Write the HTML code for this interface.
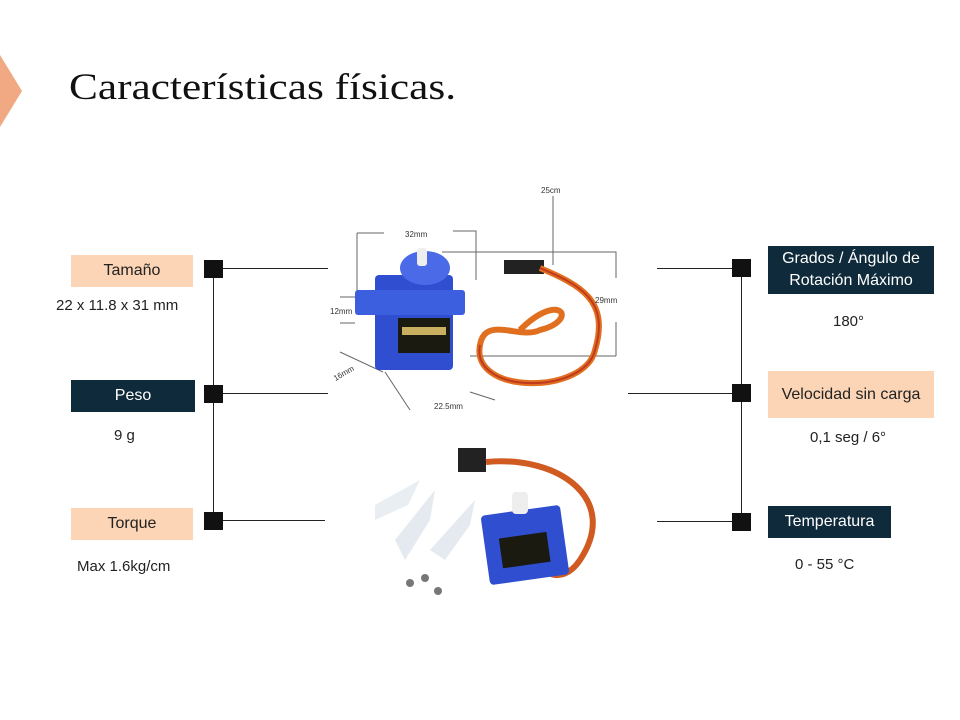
<!DOCTYPE html>
<html><head><meta charset="utf-8"><style>
body{margin:0;width:960px;height:720px;background:#fff;position:relative;overflow:hidden;font-family:"Liberation Sans",sans-serif}
.a{position:absolute}
.box{position:absolute;display:flex;align-items:center;justify-content:center;text-align:center;font-size:16px;line-height:22px}
.pe{background:#fbd5b5;color:#222}
.dk{background:#0f2a3a;color:#fff}
.t{position:absolute;font-size:15px;color:#222}
.sq{position:absolute;width:19px;height:18px;background:#111}
.hl{position:absolute;height:1px;background:#222}
.vl{position:absolute;width:1px;background:#222}
</style></head><body>
<svg class="a" style="left:0;top:0" width="960" height="720">
<polygon points="0,55 22,91 0,127" fill="#f0a982"/>
<g stroke="#666" stroke-width="1" fill="none">
<path d="M357,233 H384 M453,231 H476 V280"/>
<path d="M357,233 V300 M340,297 H355 M340,323 H355"/>
<path d="M442,252 H616 V278 M616,322 V356 M470,356 H616"/>
<path d="M553,196 V265"/>
<path d="M383,372 L340,352 M410,410 L385,372 M470,392 L495,400"/>
</g>
<rect x="375" y="275" width="78" height="95" fill="#2f4fd0" rx="4"/>
<rect x="355" y="290" width="110" height="25" fill="#3c5fe0" rx="3"/>
<ellipse cx="425" cy="268" rx="25" ry="17" fill="#4a6ae8"/>
<rect x="417" y="248" width="10" height="18" fill="#eee" rx="3"/>
<rect x="398" y="318" width="52" height="35" fill="#1a1a10"/>
<rect x="402" y="327" width="44" height="8" fill="#c8b060"/>
<rect x="504" y="260" width="40" height="14" fill="#222"/>
<path d="M540,268 C580,285 610,300 595,350 C585,395 470,395 480,345 C485,315 520,340 540,330 C580,320 560,290 520,330" stroke="#e07020" stroke-width="6" fill="none"/>
<path d="M540,268 C580,285 610,300 595,350 C585,395 470,395 480,345" stroke="#c03a20" stroke-width="2" fill="none"/>
<g font-size="8" fill="#333" font-family="Liberation Sans">
<text x="405" y="237">32mm</text><text x="541" y="193">25cm</text><text x="595" y="303">29mm</text>
<text x="330" y="314">12mm</text><text x="333" y="378" transform="rotate(-30 340 375)">16mm</text><text x="434" y="409">22.5mm</text>
</g>
<path d="M375,505 L420,480 L408,505 L375,520 Z" fill="#e8eef2"/>
<path d="M395,540 L435,490 L430,520 L405,560 Z" fill="#e4eaf0"/>
<path d="M430,550 L475,500 L470,525 L445,560 Z" fill="#e4eaf0"/>
<g fill="#777"><circle cx="410" cy="583" r="4"/><circle cx="425" cy="578" r="4"/><circle cx="438" cy="591" r="4"/></g>
<rect x="458" y="448" width="28" height="24" fill="#222"/>
<path d="M486,462 C560,455 620,500 580,560 C560,590 530,570 545,545" stroke="#d05a20" stroke-width="6" fill="none"/>
<rect x="485" y="510" width="80" height="70" fill="#2f4fd0" rx="4" transform="rotate(-8 525 545)"/>
<rect x="500" y="535" width="48" height="30" fill="#1a1a10" transform="rotate(-8 525 545)"/>
<rect x="512" y="492" width="16" height="22" fill="#eee" rx="4"/>
</svg>
<div class="a" style="left:69px;top:66px;font-family:'Liberation Serif',serif;font-size:37px;color:#111;transform:scaleX(1.17);transform-origin:0 0;white-space:nowrap">Características físicas.</div>

<div class="box pe" style="left:71px;top:255px;width:122px;height:32px">Tamaño</div>
<div class="t" style="left:56px;top:297px">22 x 11.8 x 31 mm</div>
<div class="box dk" style="left:71px;top:380px;width:124px;height:32px">Peso</div>
<div class="t" style="left:114px;top:427px">9 g</div>
<div class="box pe" style="left:71px;top:508px;width:122px;height:32px">Torque</div>
<div class="t" style="left:77px;top:558px">Max 1.6kg/cm</div>

<div class="box dk" style="left:768px;top:246px;width:166px;height:48px">Grados / Ángulo de<br>Rotación Máximo</div>
<div class="t" style="left:833px;top:313px">180°</div>
<div class="box pe" style="left:768px;top:371px;width:166px;height:47px">Velocidad sin carga</div>
<div class="t" style="left:810px;top:429px">0,1 seg / 6°</div>
<div class="box dk" style="left:768px;top:506px;width:123px;height:32px">Temperatura</div>
<div class="t" style="left:795px;top:556px">0 - 55 °C</div>

<div class="vl" style="left:213px;top:269px;height:252px"></div>
<div class="sq" style="left:204px;top:260px"></div>
<div class="sq" style="left:204px;top:385px"></div>
<div class="sq" style="left:204px;top:512px"></div>
<div class="hl" style="left:223px;top:268px;width:105px"></div>
<div class="hl" style="left:223px;top:393px;width:105px"></div>
<div class="hl" style="left:223px;top:520px;width:102px"></div>

<div class="vl" style="left:741px;top:268px;height:254px"></div>
<div class="sq" style="left:732px;top:259px"></div>
<div class="sq" style="left:732px;top:384px"></div>
<div class="sq" style="left:732px;top:513px"></div>
<div class="hl" style="left:657px;top:268px;width:75px"></div>
<div class="hl" style="left:628px;top:393px;width:104px"></div>
<div class="hl" style="left:657px;top:521px;width:75px"></div>
</body></html>
